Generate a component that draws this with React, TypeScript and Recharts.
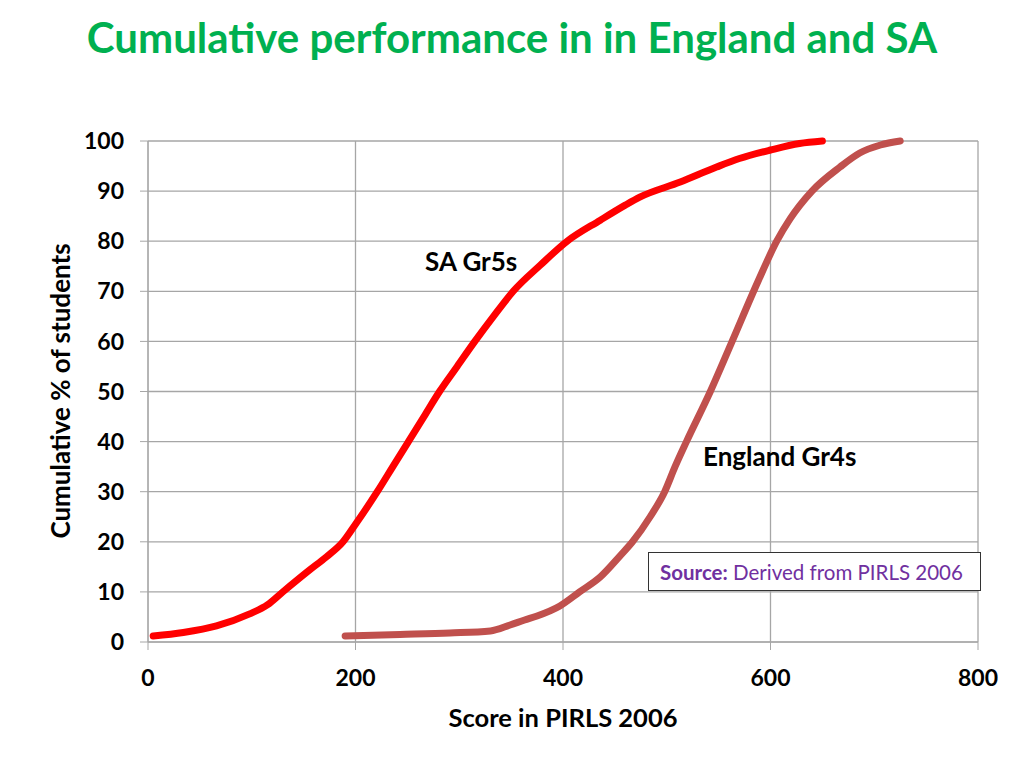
import React from "react";
import { LineChart, Line, XAxis, YAxis, CartesianGrid } from "recharts";

// SA Grade 5 cumulative curve (score, cumulative %)
const saScores = [5, 34, 66, 98, 115, 130, 156, 172, 188, 200, 221, 236, 251, 266, 281, 298, 315, 333, 352, 378, 404, 436, 460, 474, 513, 548, 570, 600, 628, 650];
const saPct = [1.2, 1.9, 3.2, 5.6, 7.4, 10, 14.4, 17, 20, 23.5, 30, 35, 40, 45, 50, 55, 60, 65, 70, 75.2, 80, 84.2, 87.2, 88.8, 91.8, 94.8, 96.5, 98.2, 99.5, 100];

// England Grade 4 cumulative curve
const engScores = [190, 243, 291, 330, 349, 363, 375, 397, 416, 436, 455, 467, 484, 498, 508, 519, 542, 563, 588, 606, 619, 640, 667, 686, 706, 725];
const engPct = [1.2, 1.5, 1.8, 2.2, 3.4, 4.4, 5.2, 7.2, 10, 13, 17.2, 20, 25, 30, 35, 40, 50, 60, 72, 80, 84.5, 90, 94.8, 97.6, 99.2, 100];

const xTicks = [0, 200, 400, 600, 800];
const yTicks = [0, 10, 20, 30, 40, 50, 60, 70, 80, 90, 100];

const saData = saScores.map((s, i) => ({ score: s, pct: saPct[i] }));
const engData = engScores.map((s, i) => ({ score: s, pct: engPct[i] }));

const font = "Lato, 'Open Sans', sans-serif";

export default function App() {
  return (
    <div style={{ position: "absolute", left: 0, top: 0, width: 1024, height: 768, background: "#fff", fontFamily: font }}>
      <div style={{ position: "absolute", left: 0, top: 12, width: 1024, textAlign: "center", color: "#00B050", fontWeight: 700, fontSize: 42 }}>
        Cumulative performance in in England and SA
      </div>
      <LineChart
        width={1024}
        height={768}
        margin={{ top: 141, right: 46, bottom: 66, left: 0 }}
        style={{ position: "absolute", left: 0, top: 0 }}
      >
        <CartesianGrid stroke="#a6a6a6" strokeWidth={1.3} />
        <XAxis
          type="number"
          dataKey="score"
          domain={[0, 800]}
          ticks={xTicks}
          height={60}
          tickSize={8}
          tickMargin={20}
          stroke="#a6a6a6"
          tick={{ fill: "#000", fontSize: 23, fontWeight: 700, fontFamily: font }}
          allowDuplicatedCategory={false}
        />
        <YAxis
          type="number"
          domain={[0, 100]}
          ticks={yTicks}
          width={148}
          tickSize={8}
          tickMargin={16}
          stroke="#a6a6a6"
          tick={{ fill: "#000", fontSize: 23, fontWeight: 700, fontFamily: font }}
        />
        <Line data={saData} dataKey="pct" type="monotone" stroke="#FF0000" strokeWidth={7} dot={false} isAnimationActive={false} strokeLinecap="round" />
        <Line data={engData} dataKey="pct" type="monotone" stroke="#C0504D" strokeWidth={7} dot={false} isAnimationActive={false} strokeLinecap="round" />
      </LineChart>
      <div style={{ position: "absolute", left: 60, top: 391, transform: "translate(-50%, -50%) rotate(-90deg)", whiteSpace: "nowrap", fontWeight: 700, fontSize: 26 }}>
        Cumulative % of students
      </div>
      <div style={{ position: "absolute", left: 563, top: 717, transform: "translate(-50%, -50%)", whiteSpace: "nowrap", fontWeight: 700, fontSize: 25.5 }}>
        Score in PIRLS 2006
      </div>
      <div style={{ position: "absolute", left: 425, top: 245, whiteSpace: "nowrap", fontWeight: 700, fontSize: 26 }}>SA Gr5s</div>
      <div style={{ position: "absolute", left: 703, top: 440, whiteSpace: "nowrap", fontWeight: 700, fontSize: 26 }}>England Gr4s</div>
      <div style={{ position: "absolute", left: 648, top: 552, width: 333, height: 39, border: "1px solid #333", background: "#fff", boxSizing: "border-box", display: "flex", alignItems: "center", paddingLeft: 11, color: "#7030A0", fontSize: 20.5, whiteSpace: "nowrap" }}>
        <span style={{ fontWeight: 700 }}>Source:</span>&nbsp;Derived from PIRLS 2006
      </div>
    </div>
  );
}
